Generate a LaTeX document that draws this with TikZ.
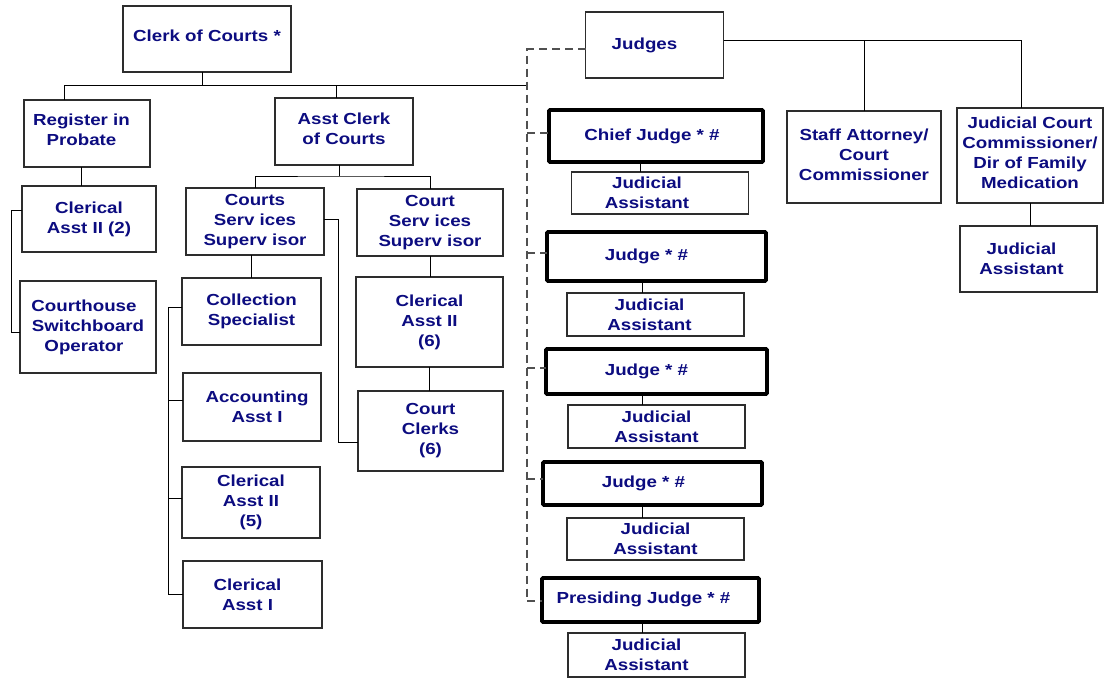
\documentclass[tikz,border=0pt]{standalone}
\usepackage{fontspec}
\newfontfamily\orgfont{Liberation Sans}[FakeStretch=1.17]
\usetikzlibrary{calc}
\definecolor{navy}{RGB}{12,12,128}
\definecolor{edgegray}{RGB}{45,45,45}
\definecolor{dashgray}{RGB}{80,80,80}
\newcommand\padR[1]{\hspace*{#1pt}}
\newcommand\padL[1]{\hspace*{#1pt}}
\tikzset{
  box/.style={draw=edgegray, line width=1.2pt, fill=white, inner sep=0pt, outer sep=0pt,
    align=center, text=navy, font=\orgfont\bfseries\fontsize{16}{20}\selectfont},
  thickbox/.style={box, draw=black, line width=3.6pt, rounded corners=1pt},
  link/.style={draw=black, line width=1pt},
  dashlink/.style={draw=dashgray, line width=1.1pt, dash pattern=on 8pt off 5pt},
}
\begin{document}
\begin{tikzpicture}[x=1pt,y=-1pt]
\useasboundingbox (0,0) rectangle (1104,678);
% ---- left side
\node[box, minimum width=168, minimum height=66, text depth=6pt] (clerk) at (207,39) {Clerk of Courts *};
\node[box, minimum width=126, minimum height=67, text depth=8pt] (reg) at (87,133.5) {Register in\padR{11}\\Probate\padR{11}};
\node[box, minimum width=138, minimum height=67, text depth=6pt] (asst) at (344,131.5) {Asst Clerk\\of Courts};
\node[box, minimum width=134, minimum height=66] (ca2a) at (89,219) {Clerical\\Asst II (2)};
\node[box, minimum width=136, minimum height=92] (switch) at (88,327) {Courthouse\padR{8}\\Switchboard\padR{8}\\Operator\padR{8}};
\node[box, minimum width=138, minimum height=67] (css1) at (255,221.5) {Courts\\Serv ices\\Superv isor};
\node[box, minimum width=146, minimum height=67] (css2) at (430,222.5) {Court\\Serv ices\\Superv isor};
\node[box, minimum width=139, minimum height=67] (coll) at (251.5,311.5) {Collection\\Specialist};
\node[box, minimum width=138, minimum height=68] (acct) at (252,407) {\padL{10}Accounting\\\padL{10}Asst I};
\node[box, minimum width=138, minimum height=71] (ca2b) at (251,502.5) {Clerical\\Asst II\\(5)};
\node[box, minimum width=139, minimum height=67] (ca1) at (252.5,594.5) {Clerical\padR{10}\\Asst I\padR{10}};
\node[box, minimum width=147, minimum height=90] (ca2c) at (429.5,322) {Clerical\\Asst II\\(6)};
\node[box, minimum width=145, minimum height=80] (clerks) at (430.5,431) {Court\\Clerks\\(6)};
% ---- right side
\node[box, minimum width=138, minimum height=66] (judges) at (654.5,45) {Judges\padR{20}};
\node[thickbox, minimum width=214, minimum height=52] (chief) at (656,136) {Chief Judge * \#\padR{8}};
\node[box, minimum width=177, minimum height=42] (ja1) at (660,193) {Judicial\padR{26}\\Assistant\padR{26}};
\node[box, minimum width=154, minimum height=92, text depth=4pt] (staff) at (864,157) {Staff Attorney/\\Court\\Commissioner};
\node[box, minimum width=146, minimum height=95, text depth=6pt] (jcc) at (1030,155.5) {Judicial Court\\Commissioner/\\Dir of Family\\Medication};
\node[box, minimum width=137, minimum height=66] (ja6) at (1028.5,259) {Judicial\padR{14}\\Assistant\padR{14}};
\node[thickbox, minimum width=219, minimum height=49] (j2) at (656.5,256.5) {Judge * \#\padR{20}};
\node[box, minimum width=177, minimum height=43] (ja2) at (655.5,314.5) {Judicial\padR{12}\\Assistant\padR{12}};
\node[thickbox, minimum width=221, minimum height=45] (j3) at (656.5,371.5) {Judge * \#\padR{20}};
\node[box, minimum width=177, minimum height=43] (ja3) at (656.5,426.5) {Judicial\\Assistant};
\node[thickbox, minimum width=219, minimum height=43] (j4) at (652.5,483.5) {Judge * \#\padR{18}};
\node[box, minimum width=177, minimum height=42] (ja4) at (655.5,539) {Judicial\\Assistant};
\node[thickbox, minimum width=217, minimum height=44, text depth=5pt] (pres) at (650.5,600) {Presiding Judge * \#\padR{14}};
\node[box, minimum width=177, minimum height=44] (ja5) at (656.5,655) {Judicial\padR{20}\\Assistant\padR{20}};
% ---- coordinates for bends
\coordinate (b0) at (64,85);
\coordinate (b1) at (202,85);
\coordinate (b2) at (336,85);
\coordinate (b3) at (527,85);
\coordinate (r1) at (81,176);
\coordinate (k1) at (11,210);
\coordinate (k2) at (11,332);
\coordinate (a0) at (339,176);
\coordinate (m1) at (168,307);
\coordinate (m2) at (168,400);
\coordinate (m3) at (168,498);
\coordinate (m4) at (168,594);
\coordinate (n1) at (338,219);
\coordinate (n2) at (338,442);
\coordinate (g1) at (1021,40);
\coordinate (jx) at (642,0);
\coordinate (jx1) at (640,0);
\coordinate (d0) at (527,49);
\coordinate (d1) at (527,133);
\coordinate (d2) at (527,253);
\coordinate (d3) at (527,368);
\coordinate (d4) at (527,479);
\coordinate (d5) at (527,601);
% ---- solid connectors
\draw[link] (clerk.south -| b1) -- (b1);
\draw[link] (reg.north -| b0) -- (b0) -- (b3);
\draw[link] (asst.north -| b2) -- (b2);
\draw[link] (reg.south -| r1) -- (ca2a.north -| r1);
\draw[link] (ca2a.west |- k1) -- (k1) -- (k2) -- (switch.west |- k2);
\draw[link] (asst.south -| a0) -- (a0);
\draw[link] (css1.north) |- (a0) -| (css2.north);
\draw[link] (css1.south -| coll.north) -- (coll.north);
\draw[link] (coll.west |- m1) -- (m1) -- (m4) -- (ca1.west |- m4);
\draw[link] (m2) -- (acct.west |- m2);
\draw[link] (m3) -- (ca2b.west |- m3);
\draw[link] (css1.east |- n1) -- (n1) -- (n2) -- (clerks.west |- n2);
\draw[link] (css2.south) -- (css2.south |- ca2c.north);
\draw[link] (ca2c.south) -- (ca2c.south |- clerks.north);
\draw[link] (judges.east |- g1) -- (g1) -- (jcc.north -| g1);
\draw[link] (staff.north) -- (staff.north |- g1);
\draw[link] (jcc.south) -- (jcc.south |- ja6.north);
\draw[link] (chief.south -| jx1) -- (ja1.north -| jx1);
\draw[link] (j2.south -| jx) -- (ja2.north -| jx);
\draw[link] (j3.south -| jx) -- (ja3.north -| jx);
\draw[link] (j4.south -| jx) -- (ja4.north -| jx);
\draw[link] (pres.south -| jx) -- (ja5.north -| jx);
% ---- dashed connectors
\draw[dashlink] (judges.west |- d0) -- (d0) -- (d5);
\draw[dashlink] (d1) -- (chief.west |- d1);
\draw[dashlink] (d2) -- (j2.west |- d2);
\draw[dashlink] (d3) -- (j3.west |- d3);
\draw[dashlink] (d4) -- (j4.west |- d4);
\draw[dashlink] (d5) -- (pres.west |- d5);
\end{tikzpicture}
\end{document}
